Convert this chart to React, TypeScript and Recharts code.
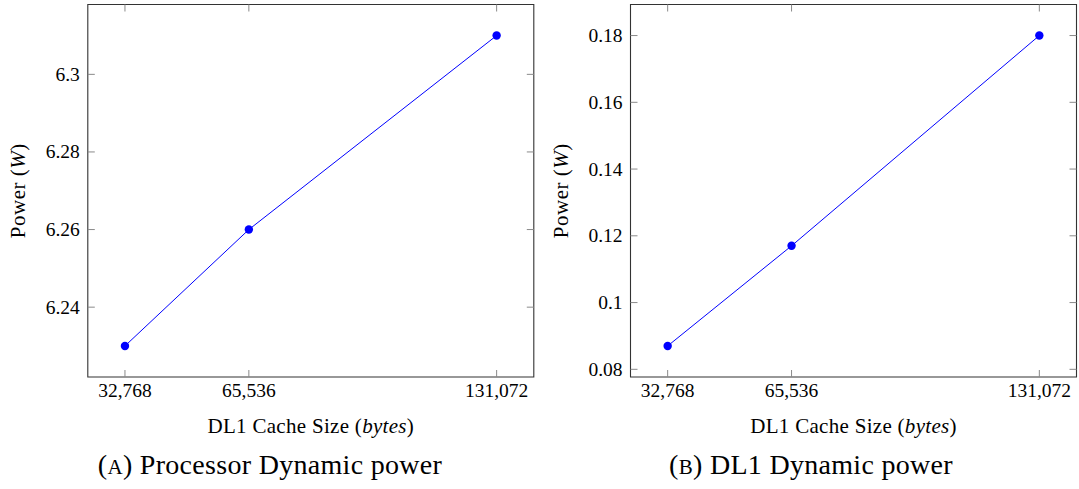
import { LineChart, Line, XAxis, YAxis, ReferenceArea, Label } from "recharts"

// DL1 cache sizes (bytes) shared by both panels
const cacheSizes = [32768, 65536, 131072]
// (a) processor dynamic power, W
const processorPower = [6.23, 6.26, 6.31]
const processorTicks = [6.24, 6.26, 6.28, 6.3]
// (b) DL1 dynamic power, W
const dl1Power = [0.087, 0.117, 0.18]
const dl1Ticks = [0.08, 0.1, 0.12, 0.14, 0.16, 0.18]

const FONT = "Liberation Serif"
const H = 489
const PLOT_TOP = 4.5
const PLOT_H = 372.5
const PLOT_W = 446
const Y_AXIS_W = 80
const X_AXIS_H = 60
const TICK_LEN = 7
const TICK_FONT = 19.5
const TICK_COLOR = "#8a8a8a"
const FRAME_COLOR = "#333"

// pgfplots-ish: pad the axis limits by 10% of the data range on each side
const enlarge = (vals: number[]): [number, number] => {
  const lo = Math.min(...vals)
  const hi = Math.max(...vals)
  const pad = (hi - lo) * 0.1
  return [lo - pad, hi + pad]
}

interface PanelProps {
  width: number
  plotLeft: number
  values: number[]
  yTicks: number[]
  letter: string
  caption: string
  captionX: number
}

function Panel({ width, plotLeft, values, yTicks, letter, caption, captionX }: PanelProps) {
  const data = cacheSizes.map((size, i) => ({ size, power: values[i] }))
  const xDomain = enlarge(cacheSizes)
  const yDomain = enlarge(values)
  const bottom = PLOT_TOP + PLOT_H
  const right = plotLeft + PLOT_W

  const XTick = ({ x, payload }: any) => (
    <g>
      <line x1={x} x2={x} y1={bottom} y2={bottom - TICK_LEN} stroke={TICK_COLOR} />
      <line x1={x} x2={x} y1={PLOT_TOP} y2={PLOT_TOP + TICK_LEN} stroke={TICK_COLOR} />
      <text x={x} y={bottom + 19.5} textAnchor="middle" fontFamily={FONT} fontSize={TICK_FONT} fill="#000">
        {payload.value.toLocaleString("en-US")}
      </text>
    </g>
  )

  const YTick = ({ y, payload }: any) => (
    <g>
      <line x1={plotLeft} x2={plotLeft + TICK_LEN} y1={y} y2={y} stroke={TICK_COLOR} />
      <line x1={right} x2={right - TICK_LEN} y1={y} y2={y} stroke={TICK_COLOR} />
      <text x={plotLeft - 8} y={y + 6.5} textAnchor="end" fontFamily={FONT} fontSize={TICK_FONT} fill="#000">
        {String(payload.value)}
      </text>
    </g>
  )

  const xLabel = () => (
    <text
      x={plotLeft + PLOT_W / 2}
      y={bottom + 56}
      textAnchor="middle"
      fontFamily={FONT}
      fontSize={21}
      letterSpacing={0.3}
      fill="#000"
    >
      DL1 Cache Size (<tspan fontStyle="italic">bytes</tspan>)
    </text>
  )

  const yLabel = () => {
    const lx = plotLeft - 63
    const ly = PLOT_TOP + PLOT_H / 2
    return (
      <text
        x={lx}
        y={ly}
        transform={`rotate(-90 ${lx} ${ly})`}
        textAnchor="middle"
        fontFamily={FONT}
        fontSize={21}
        letterSpacing={0.5}
        fill="#000"
      >
        Power (<tspan fontStyle="italic">W</tspan>)
      </text>
    )
  }

  return (
    <div style={{ position: "relative", width, height: H, fontFamily: FONT }}>
      <LineChart
        width={width}
        height={H}
        data={data}
        margin={{
          top: PLOT_TOP,
          left: plotLeft - Y_AXIS_W,
          right: width - right,
          bottom: H - bottom - X_AXIS_H,
        }}
      >
        <XAxis
          dataKey="size"
          type="number"
          domain={xDomain}
          ticks={cacheSizes}
          height={X_AXIS_H}
          tickLine={false}
          axisLine={false}
          tick={<XTick />}
          interval={0}
        >
          <Label content={xLabel} />
        </XAxis>
        <YAxis
          type="number"
          domain={yDomain}
          ticks={yTicks}
          width={Y_AXIS_W}
          tickLine={false}
          axisLine={false}
          tick={<YTick />}
          interval={0}
        >
          <Label content={yLabel} />
        </YAxis>
        <ReferenceArea
          x1={xDomain[0]}
          x2={xDomain[1]}
          y1={yDomain[0]}
          y2={yDomain[1]}
          fill="none"
          stroke={FRAME_COLOR}
          strokeWidth={1.1}
          ifOverflow="extendDomain"
        />
        <Line
          type="linear"
          dataKey="power"
          stroke="#0000ff"
          strokeWidth={1}
          dot={{ r: 4.2, fill: "#0000ff", stroke: "none" }}
          activeDot={false}
          isAnimationActive={false}
        />
      </LineChart>
      <div
        style={{
          position: "absolute",
          left: captionX - 200,
          width: 400,
          top: 451,
          textAlign: "center",
          fontFamily: FONT,
          fontSize: 28,
          letterSpacing: 0.3,
          lineHeight: "28px",
          whiteSpace: "nowrap",
          color: "#000",
        }}
      >
        (<span style={{ fontSize: 21 }}>{letter}</span>) {caption}
      </div>
    </div>
  )
}

export default function App() {
  return (
    <div
      style={{
        position: "absolute",
        left: 0,
        top: 0,
        width: 1079,
        height: H,
        display: "flex",
        background: "#fff",
      }}
    >
      <Panel
        width={540}
        plotLeft={87.8}
        values={processorPower}
        yTicks={processorTicks}
        letter="A"
        caption="Processor Dynamic power"
        captionX={270}
      />
      <Panel
        width={539}
        plotLeft={90.5}
        values={dl1Power}
        yTicks={dl1Ticks}
        letter="B"
        caption="DL1 Dynamic power"
        captionX={271}
      />
    </div>
  )
}
